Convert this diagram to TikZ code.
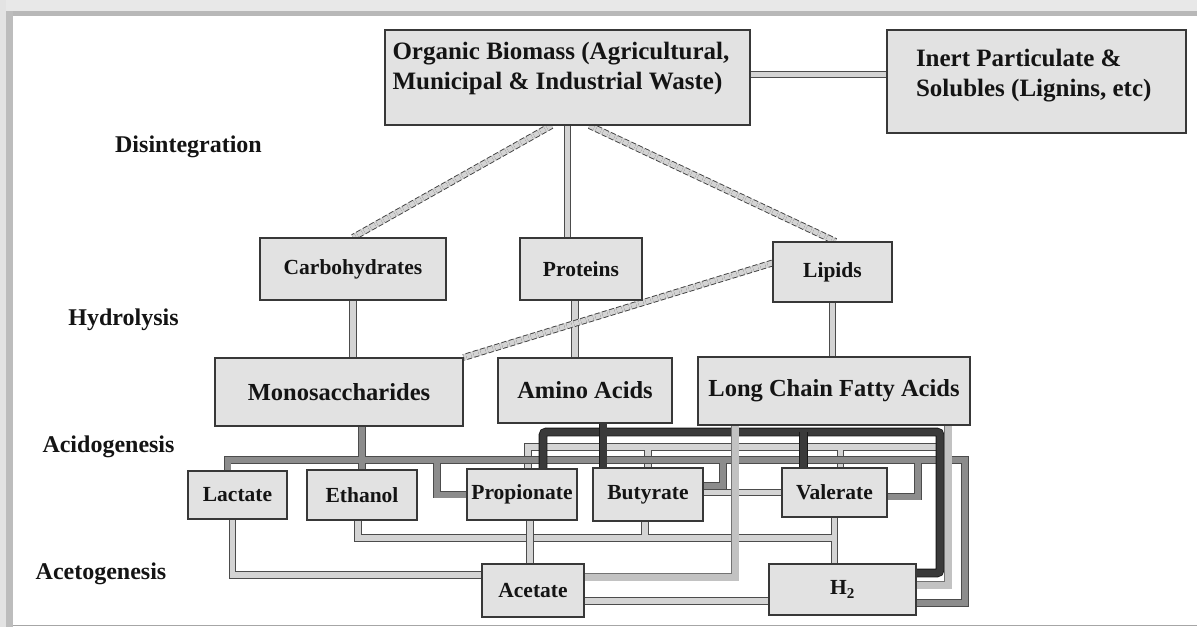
\documentclass[tikz,border=0pt]{standalone}
\usepackage{fontspec}
\setmainfont{Liberation Serif}
\usetikzlibrary{calc}
\pgfdeclarelayer{back}
\pgfdeclarelayer{bg}
\pgfsetlayers{back,bg,main}
\definecolor{boxfill}{HTML}{E2E2E2}
\definecolor{boxline}{HTML}{383838}
\definecolor{txt}{HTML}{141414}
\definecolor{lightp}{HTML}{D4D4D4}
\definecolor{midp}{HTML}{8C8C8C}
\definecolor{darkp}{HTML}{3A3A3A}
\definecolor{gp}{HTML}{C2C2C2}
\tikzset{
  box/.style={draw=boxline, line width=1.1pt, fill=boxfill, inner sep=0pt, text=txt, font=\bfseries\fontsize{21.5}{23}\selectfont},
  bigtext/.style={font=\bfseries\fontsize{24.5}{26}\selectfont},
  toptext/.style={font=\bfseries\fontsize{25}{30}\selectfont},
  stage/.style={inner sep=0pt, text=txt, font=\bfseries\fontsize{24}{26}\selectfont},
  lpipe/.style={draw=black!70, line width=0.9pt, double=lightp, double distance=5.5pt},
  dbase/.style={draw=lightp, line width=6.5pt},
  dpipe/.style={draw=black!75, line width=0.9pt, dash pattern=on 5pt off 2.5pt, double=lightp, double distance=5pt},
  mpipe/.style={draw=black!70, line width=0.8pt, double=midp, double distance=6pt},
  kpipe/.style={draw=black!90, line width=0.8pt, double=darkp, double distance=7pt, rounded corners=3pt},
  gpipe/.style={draw=black!55, line width=0.7pt, double=gp, double distance=7pt},
}
\begin{document}
\begin{tikzpicture}[x=1pt, y=-1pt]
\useasboundingbox (0,0) rectangle (1197,627);
\begin{pgfonlayer}{back}
\fill[white] (0,0) rectangle (1197,627);
\fill[black!9] (0,0) rectangle (1197,11);
\fill[black!11] (0,0) rectangle (6,627);
\fill[black!28] (6,11) rectangle (1197,16);
\fill[black!26] (6,11) rectangle (13,627);
\draw[black!35, line width=1.2pt] (13,625.5) -- (1197,625.5);
\end{pgfonlayer}

% stage labels
\node[stage] (dis) at (188.5,147) {Disintegration};
\node[stage] (hyd) at (123.5,320) {Hydrolysis};
\node[stage] (acid) at (108.5,447) {Acidogenesis};
\node[stage] (aceto) at (101,574) {Acetogenesis};

% boxes
\node[box, toptext, minimum width=365pt, minimum height=95pt] (org) at (567.5,77.5)
  {\parbox[c][70pt][t]{350pt}{\raggedright Organic Biomass (Agricultural,\\Municipal \& Industrial Waste)}};
\node[box, toptext, minimum width=299pt, minimum height=103pt] (inert) at (1036.5,81.5)
  {\parbox[c][64pt][t]{241pt}{\raggedright Inert Particulate \&\\Solubles (Lignins, etc)}};
\node[box, minimum width=186pt, minimum height=62pt] (carb) at (353,269) {Carbohydrates};
\node[box, minimum width=122pt, minimum height=62pt] (prot) at (581,269) {Proteins};
\node[box, minimum width=119pt, minimum height=60pt] (lip) at (832.5,272) {Lipids};
\node[box, bigtext, minimum width=248pt, minimum height=68pt] (mono) at (339,392) {Monosaccharides};
\node[box, bigtext, minimum width=174pt, minimum height=65pt] (amino) at (585,390.5) {Amino Acids};
\node[box, bigtext, minimum width=272pt, minimum height=68pt] (lcfa) at (834,391) {Long Chain Fatty Acids};
\node[box, minimum width=99pt, minimum height=48pt] (lac) at (237.5,495) {Lactate};
\node[box, minimum width=110pt, minimum height=50pt] (eth) at (362,495) {Ethanol};
\node[box, minimum width=110pt, minimum height=51pt] (prop) at (522,494.5) {Propionate};
\node[box, minimum width=110pt, minimum height=53pt] (but) at (648,494.5) {Butyrate};
\node[box, minimum width=105pt, minimum height=49pt] (val) at (834.5,492.5) {Valerate};
\node[box, minimum width=102pt, minimum height=53pt] (ace) at (533,590.5) {Acetate};
\node[box, minimum width=147pt, minimum height=51pt] (htwo) at (842.5,589.5) {H\textsubscript{2}};

% junction coordinates
\coordinate (mL) at (227,460);
\coordinate (mR) at (965,460);
\coordinate (mP) at (437,460);
\coordinate (mB) at (723,460);
\coordinate (mV) at (918,460);
\coordinate (kL) at (543,432);
\coordinate (kR) at (940,432);
\coordinate (tL) at (528,447);
\coordinate (tR) at (948,447);
\coordinate (eR) at (835,538);

\begin{pgfonlayer}{bg}
% top level
\draw[lpipe] ([yshift=3pt]org.east) -- ([yshift=3pt]org.east -| inert.west);
\draw[lpipe] (org.south) -- (org.south |- prot.north);
\draw[dbase] ([xshift=-16pt]org.south) -- (carb.north);
\draw[dpipe] ([xshift=-16pt]org.south) -- (carb.north);
\draw[dbase] ([xshift=22pt]org.south) -- ([xshift=3pt]lip.north);
\draw[dpipe] ([xshift=22pt]org.south) -- ([xshift=3pt]lip.north);
% hydrolysis
\draw[lpipe] (carb.south) -- (carb.south |- mono.north);
\draw[lpipe] ([xshift=-6pt]prot.south) -- ([xshift=-6pt]prot.south |- amino.north);
\draw[lpipe] (lip.south) -- (lip.south |- lcfa.north);
\draw[dbase] ([yshift=9pt]lip.west) -- (mono.north east);
\draw[dpipe] ([yshift=9pt]lip.west) -- (mono.north east);
% lower light links
\draw[lpipe] ([xshift=-5pt]lac.south) |- ([yshift=15.5pt]ace.west);
\draw[lpipe] ([xshift=-4pt]eth.south) |- (eR)
  ([xshift=-3pt]but.south) -- ([xshift=-3pt]but.south |- eR)
  (val.south) -- (val.south |- htwo.north);
\draw[lpipe] ([xshift=8pt]prop.south) -- ([xshift=8pt]prop.south |- ace.north);
\draw[lpipe] ([yshift=-10.5pt]ace.east) -- ([yshift=-10.5pt]ace.east -| htwo.west);
\draw[lpipe] ([yshift=2pt]but.east) -- ([yshift=2pt]but.east -| val.west);
% light network (top)
\draw[lpipe] (prop.north -| tL) -- (tL) -- (tR)
  (but.north |- tL) -- (but.north)
  ([xshift=6pt]val.north |- tL) -- ([xshift=6pt]val.north);
% mid network from monosaccharides
\draw[mpipe] ([xshift=-10pt]lac.north) -- ([xshift=-10pt]lac.north |- mL) -- (mR) |- ([yshift=-13.5pt]htwo.east)
  (eth.north |- mono.south) -- (eth.north)
  (mP) |- (prop.west)
  (mB) |- ([yshift=9pt]but.east)
  (mV) |- ([yshift=-4pt]val.east);
% dark network from amino acids
\draw[kpipe] (prop.north -| kL) -- (kL) -- (kR) |- ([yshift=16.5pt]htwo.east);
\draw[kpipe] ([xshift=-31pt]val.north) -- ([xshift=-31pt]val.north |- kL);
\draw[kpipe] ([xshift=18pt]amino.south) -- ([xshift=18pt]amino.south |- but.north);
% LCFA links
\draw[gpipe] ([xshift=-99pt]lcfa.south) |- ([yshift=13.5pt]ace.east);
\draw[gpipe] ([xshift=114pt]lcfa.south) |- ([yshift=4.5pt]htwo.east);
\end{pgfonlayer}
\end{tikzpicture}
\end{document}
